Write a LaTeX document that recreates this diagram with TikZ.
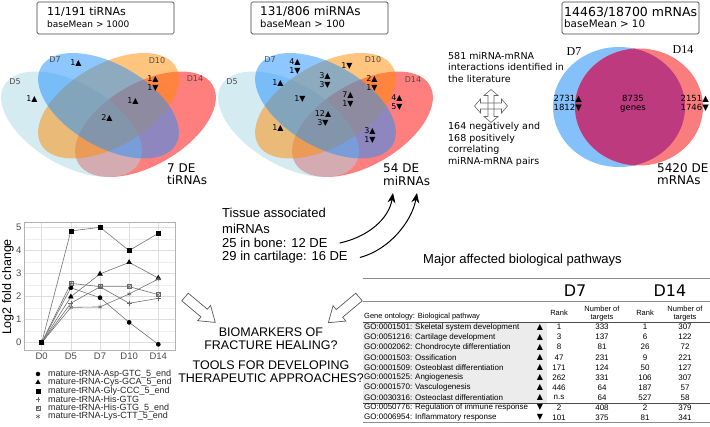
\documentclass[tikz,border=0pt]{standalone}
\usepackage{fontspec}
\setmainfont{Liberation Sans}
\newfontfamily\dvfont{DejaVu Sans}
\newfontfamily\serfont{Liberation Serif}
\usetikzlibrary{arrows.meta,plotmarks}

\definecolor{vennfive}{RGB}{173,216,230}
\definecolor{vennseven}{RGB}{30,144,255}
\definecolor{vennten}{RGB}{255,140,0}
\definecolor{vennfourteen}{RGB}{255,0,0}
\definecolor{mrnaseven}{RGB}{132,192,250}
\definecolor{mrnafourteen}{RGB}{250,125,125}
\definecolor{mrnaboth}{RGB}{188,58,125}
\definecolor{goshade}{RGB}{236,236,236}

\newcommand{\upmark}{{\dvfont ▲}}
\newcommand{\downmark}{{\dvfont ▼}}

\begin{document}
\begin{tikzpicture}[x=1pt,y=-1pt,
    countbox/.style={draw=black!75,line width=0.7pt,rounded corners=1.5pt,minimum width=137pt,minimum height=32pt,inner sep=0pt},
    boxline/.style={anchor=west,inner sep=0pt},
    setname/.style={inner sep=0pt,text=black!70,font=\dvfont\fontsize{8}{9}\selectfont},
    setcount/.style={inner sep=0pt,align=center,font=\dvfont\fontsize{8}{9}\selectfont},
    venn/.style={fill opacity=0.5,yscale=0.749},
    detext/.style={anchor=west,inner sep=0pt,align=left,font=\dvfont\fontsize{12}{12.5}\selectfont},
    note/.style={anchor=west,inner sep=0pt,align=left,font=\dvfont\fontsize{9.5}{11.5}\selectfont},
    bigtext/.style={inner sep=0pt,font=\fontsize{12.5}{14}\selectfont},
    hollow/.style={draw=black!65,fill=white,line width=0.7pt},
    quadarrow/.style={draw=black!60,line width=0.6pt},
    curvearrow/.style={line width=1pt,-{Stealth[length=10pt,width=8pt]}},
    gridmajor/.style={black!13,line width=0.5pt},
    gridminor/.style={black!7,line width=0.3pt},
    ticklab/.style={inner sep=0pt,text=black!70,font=\fontsize{9.5}{11}\selectfont},
    series/.style={black!55,line width=0.6pt},
    legendtext/.style={anchor=west,inner sep=0pt,text=black!85,font=\fontsize{9}{9}\selectfont},
    gocell/.style={anchor=west,inner sep=0pt,font=\fontsize{8}{9}\selectfont},
    numcell/.style={inner sep=0pt,font=\fontsize{8}{9}\selectfont},
    headcell/.style={inner sep=0pt,align=center,font=\fontsize{7.5}{8.5}\selectfont},
    tablerule/.style={black!45,line width=1pt},
    thinrule/.style={black!70,line width=0.6pt}
  ]
  \useasboundingbox (0,0) rectangle (710,427);
  \fill[white] (0,0) rectangle (710,427);

  % count boxes
  \node[countbox] (tibox) at (105.5,18) {};
  \node[boxline,font=\dvfont\fontsize{11}{13}\selectfont] (tititle) at (47,12) {11/191 tiRNAs};
  \node[boxline,font=\dvfont\fontsize{9}{11}\selectfont] (tisub) at (47,24) {baseMean > 1000};
  \node[countbox] (mibox) at (319.5,18) {};
  \node[boxline,font=\dvfont\fontsize{12}{14}\selectfont] (mititle) at (260,12) {131/806 miRNAs};
  \node[boxline,font=\dvfont\fontsize{10}{12}\selectfont] (misub) at (260,23.5) {baseMean > 100};
  \node[countbox] (mrbox) at (630.5,18) {};
  \node[boxline,font=\dvfont\fontsize{12.5}{14}\selectfont] (mrtitle) at (564,12) {14463/18700 mRNAs};
  \node[boxline,font=\dvfont\fontsize{10.3}{12}\selectfont] (mrsub) at (564,24) {baseMean > 10};

  % four-set venns
  \foreach \cx in {108.5,325.5}{
    \fill[shift={(\cx+37,124.25)},venn,rotate=45,vennfourteen] (0,0) ellipse [x radius=86.45pt,y radius=49.4pt];
    \fill[shift={(\cx-37,124.25)},venn,rotate=-45,vennfive] (0,0) ellipse [x radius=86.45pt,y radius=49.4pt];
    \fill[shift={(\cx,105.75)},venn,rotate=45,vennten] (0,0) ellipse [x radius=86.45pt,y radius=49.4pt];
    \fill[shift={(\cx,105.75)},venn,rotate=-45,vennseven] (0,0) ellipse [x radius=86.45pt,y radius=49.4pt];
  }

  \node[setname] (tiD7) at (55,60) {D7};
  \node[setname] (tiD5) at (15,82) {D5};
  \node[setname] (tiD10) at (157,61) {D10};
  \node[setname] (tiD14) at (195,79) {D14};
  \node[setcount] (tia) at (76,63) {1\upmark};
  \node[setcount] (tib) at (32,99) {1\upmark};
  \node[setcount] (tic) at (153,83.5) {1\upmark\\1\downmark};
  \node[setcount] (tid) at (133,101) {1\upmark};
  \node[setcount] (tie) at (107,118) {2\upmark};
  \node[detext] (tide) at (167,174) {7 DE\\tiRNAs};

  \node[setname] (miD7) at (270,60) {D7};
  \node[setname] (miD5) at (232,82) {D5};
  \node[setname] (miD10) at (373,60) {D10};
  \node[setname] (miD14) at (413,80) {D14};
  \node[setcount] (mia) at (295,66.5) {4\upmark\\1\downmark};
  \node[setcount] (mib) at (278,83) {1\upmark};
  \node[setcount] (mic) at (347,66) {1\downmark};
  \node[setcount] (mid) at (325,80.5) {3\upmark\\3\downmark};
  \node[setcount] (mie) at (372,83.5) {2\upmark\\1\downmark};
  \node[setcount] (mif) at (300,99) {1\downmark};
  \node[setcount] (mig) at (348,99.5) {7\upmark\\1\downmark};
  \node[setcount] (mih) at (397,102.5) {4\upmark\\5\downmark};
  \node[setcount] (mii) at (323,118.5) {12\upmark\\3\downmark};
  \node[setcount] (mij) at (278,128) {1\upmark};
  \node[setcount] (mik) at (370,135.5) {3\upmark\\1\downmark};
  \node[detext] (mide) at (383,174.5) {54 DE\\miRNAs};

  % interactions
  \node[note] (lit) at (448,67) {581 miRNA-mRNA\\interactions identified in\\the literature};
  \foreach \ang in {0,90}
    \draw[quadarrow,shift={(491,106)},rotate=\ang] (-16.5,0) -- (-10.5,-7) -- (-10.5,-3) -- (10.5,-3) -- (10.5,-7) -- (16.5,0) -- (10.5,7) -- (10.5,3) -- (-10.5,3) -- (-10.5,7) -- cycle;
  \node[note] (corr) at (448,144.5) {164 negatively and\\168 positively\\correlating\\miRNA-mRNA pairs};

  % two-set venn
  \fill[mrnaseven] (619,107) ellipse [x radius=66pt,y radius=60pt];
  \fill[mrnafourteen] (639,107) ellipse [x radius=64pt,y radius=58.5pt];
  \begin{scope}
    \clip (619,107) ellipse [x radius=66pt,y radius=60pt];
    \fill[mrnaboth] (639,107) ellipse [x radius=64pt,y radius=58.5pt];
  \end{scope}
  \node[inner sep=0pt,font=\serfont\fontsize{12}{14}\selectfont] (mrD7) at (574,52) {D7};
  \node[inner sep=0pt,font=\serfont\fontsize{12}{14}\selectfont] (mrD14) at (683,50) {D14};
  \node[setcount,anchor=east,align=right,font=\dvfont\fontsize{8.5}{9}\selectfont] (mra) at (582,103.5) {2731\upmark\\1812\downmark};
  \node[setcount,font=\dvfont\fontsize{8.5}{9}\selectfont] (mrb) at (633,103.5) {8735\\genes};
  \node[setcount,anchor=east,align=right,font=\dvfont\fontsize{8.5}{9}\selectfont] (mrc) at (709,103.5) {2151\upmark\\1746\downmark};
  \node[detext] (mrde) at (657,174) {5420 DE\\mRNAs};

  % line chart
  \begin{scope}[shift={(41.7,342.7)},x=29.15pt,y=23.08pt]
    \fill[white] (-0.6,-0.32) rectangle (4.6,5.23);
    \foreach \v in {0.5,1.5,2.5,3.5,4.5}
      \draw[gridminor] (-0.6,\v) -- (4.6,\v);
    \foreach \v in {0,...,5}
      \draw[gridmajor] (-0.6,\v) -- (4.6,\v);
    \foreach \d in {0,...,4}
      \draw[gridmajor] (\d,-0.32) -- (\d,5.23);
    \draw[black!30,line width=0.6pt] (-0.6,-0.32) rectangle (4.6,5.23);
    \foreach \v in {0,...,5}
      \node[ticklab,anchor=east] (ytick\v) at (-0.69,\v) {\v};
    \foreach \d/\lab in {0/D0,1/D5,2/D7,3/D10,4/D14}
      \node[ticklab] (xtick\d) at (\d,-0.58) {\lab};
    \draw[series] plot[mark=*,mark size=2pt,mark options={black}] coordinates {(0,0) (1,2.38) (2,1.95) (3,0.88) (4,-0.07)};
    \draw[series] plot[mark=triangle*,mark size=2.6pt,mark options={black}] coordinates {(0,0) (1,1.99) (2,2.98) (3,3.48) (4,2.8)};
    \draw[series] plot[mark=+,mark size=2.4pt,mark options={black!60,line width=0.5pt}] coordinates {(0,0) (1,1.71) (2,2.42) (3,1.71) (4,1.92)};
    \draw[series] plot[mark=square,mark size=2pt,mark options={black!60,line width=0.5pt}] coordinates {(0,0) (1,2.57) (2,2.43) (3,2.43) (4,2.08)};
    \draw[black!60,line width=0.5pt] plot[only marks,mark=x,mark size=2pt] coordinates {(1,2.57) (2,2.43) (3,2.43) (4,2.08)};
    \draw[series] plot[mark=asterisk,mark size=2.3pt,mark options={black!60,line width=0.5pt}] coordinates {(0,0) (1,1.53) (2,1.55) (3,2.11) (4,2.76)};
    \draw[series] plot[mark=square*,mark size=2pt,mark options={black}] coordinates {(0,0) (1,4.84) (2,5.0) (3,3.99) (4,4.74)};
  \end{scope}
  \node[rotate=90,inner sep=0pt,font=\fontsize{12.5}{14}\selectfont] (ytitle) at (8,287) {Log2 fold change};

  % legend
  \draw[black] plot[only marks,mark=*,mark size=2pt] coordinates {(38,374)};
  \draw[black] plot[only marks,mark=triangle*,mark size=2.6pt] coordinates {(38,382.5)};
  \draw[black] plot[only marks,mark=square*,mark size=2pt] coordinates {(38,391)};
  \draw[black!60,line width=0.5pt] plot[only marks,mark=+,mark size=2.4pt] coordinates {(38,399.5)};
  \draw[black!60,line width=0.5pt] plot[only marks,mark=square,mark size=2pt] coordinates {(38,408)};
  \draw[black!60,line width=0.5pt] plot[only marks,mark=x,mark size=2pt] coordinates {(38,408)};
  \draw[black!60,line width=0.5pt] plot[only marks,mark=asterisk,mark size=2.3pt] coordinates {(38,416.5)};
  \foreach \ly/\lab [count=\k] in {374/mature-tRNA-Asp-GTC\_5\_end,382.5/mature-tRNA-Cys-GCA\_5\_end,391/mature-tRNA-Gly-CCC\_5\_end,399.5/mature-tRNA-His-GTG,408/mature-tRNA-His-GTG\_5\_end,416.5/mature-tRNA-Lys-CTT\_5\_end}
    \node[legendtext] (leg\k) at (48,\ly) {\lab};

  % tissue miRNAs and curved arrows
  \node[bigtext,anchor=west,font=\fontsize{13}{14}\selectfont] (tissue) at (222,213) {Tissue associated};
  \node[bigtext,anchor=west,font=\fontsize{13}{14}\selectfont] (tissueb) at (222,229) {miRNAs};
  \node[bigtext,anchor=west,font=\fontsize{13}{14}\selectfont] (bone) at (222,243) {25 in bone: 12 DE};
  \node[bigtext,anchor=west,font=\fontsize{13}{14}\selectfont] (cart) at (222,257.5) {29 in cartilage: 16 DE};
  \coordinate (tipa) at (393,193);
  \coordinate (tipb) at (417,193);
  \draw[curvearrow] ([xshift=12pt]bone.east) .. controls +(28,-6) and +(-4,26) .. (tipa);
  \draw[curvearrow] ([xshift=12pt]cart.east) .. controls +(30,-8) and +(-5,28) .. (tipb);

  % hollow arrows and questions
  \draw[hollow,shift={(185,297)},rotate=-40] (0,-5) -- (25,-5) -- (25,-10) -- (39.5,0) -- (25,10) -- (25,5) -- (0,5) -- cycle;
  \draw[hollow,shift={(359,297)},rotate=-140] (0,-5) -- (25.5,-5) -- (25.5,-10) -- (40,0) -- (25.5,10) -- (25.5,5) -- (0,5) -- cycle;
  \node[bigtext] (bioa) at (271,332) {BIOMARKERS OF};
  \node[bigtext] (biob) at (271,345) {FRACTURE HEALING?};
  \node[bigtext] (toola) at (271,365) {TOOLS FOR DEVELOPING};
  \node[bigtext] (toolb) at (271,378.5) {THERAPEUTIC APPROACHES?};

  % pathways table
  \node[anchor=west,inner sep=0pt,font=\fontsize{13}{15}\selectfont] (major) at (423,260) {Major affected biological pathways};
  \fill[goshade] (363,322) rectangle (547,403);
  \draw[tablerule] (363,279) -- (710,279);
  \draw[tablerule] (363,302) -- (710,302);
  \draw[thinrule] (363,322) -- (710,322);
  \draw[thinrule] (363,403) -- (710,403);
  \draw[tablerule] (363,423) -- (710,423);
  \node[inner sep=0pt,font=\dvfont\fontsize{16}{18}\selectfont] (hdseven) at (575,291) {D7};
  \node[inner sep=0pt,font=\dvfont\fontsize{16}{18}\selectfont] (hdfourteen) at (670,291) {D14};
  \node[gocell,font=\fontsize{7.5}{9}\selectfont] (gohead) at (364,317) {Gene ontology: Biological pathway};
  \node[headcell] (rankseven) at (559,313) {Rank};
  \node[headcell] (numseven) at (602,313.5) {Number of\\targets};
  \node[headcell] (rankfourteen) at (645,313) {Rank};
  \node[headcell] (numfourteen) at (685,313.5) {Number of\\targets};
  \foreach \goname/\mk/\rka/\nta/\rkb/\ntb [count=\i] in {
      GO:0001501: Skeletal system development/\upmark/1/333/1/307,
      GO:0051216: Cartilage development/\upmark/3/137/6/122,
      GO:0002062: Chondrocyte differentiation/\upmark/8/81/26/72,
      GO:0001503: Ossification/\upmark/47/231/9/221,
      GO:0001509: Osteoblast differentiation/\upmark/171/124/50/127,
      GO:0001525: Angiogenesis/\upmark/262/331/106/307,
      GO:0001570: Vasculogenesis/\upmark/446/64/187/57,
      GO:0030316: Osteoclast differentiation/\upmark/n.s/64/527/58,
      GO:0050776: Regulation of immune response/\downmark/2/408/2/379,
      GO:0006954: Inflammatory response/\downmark/101/375/81/341}
  {
    \node[gocell] (go\i) at (364,316.9+10.1*\i) {\goname};
    \node[numcell] (dir\i) at (540,316.9+10.1*\i) {\mk};
    \node[numcell] (rka\i) at (559,316.9+10.1*\i) {\rka};
    \node[numcell] (nta\i) at (602,316.9+10.1*\i) {\nta};
    \node[numcell] (rkb\i) at (645,316.9+10.1*\i) {\rkb};
    \node[numcell] (ntb\i) at (685,316.9+10.1*\i) {\ntb};
  }
\end{tikzpicture}
\end{document}
